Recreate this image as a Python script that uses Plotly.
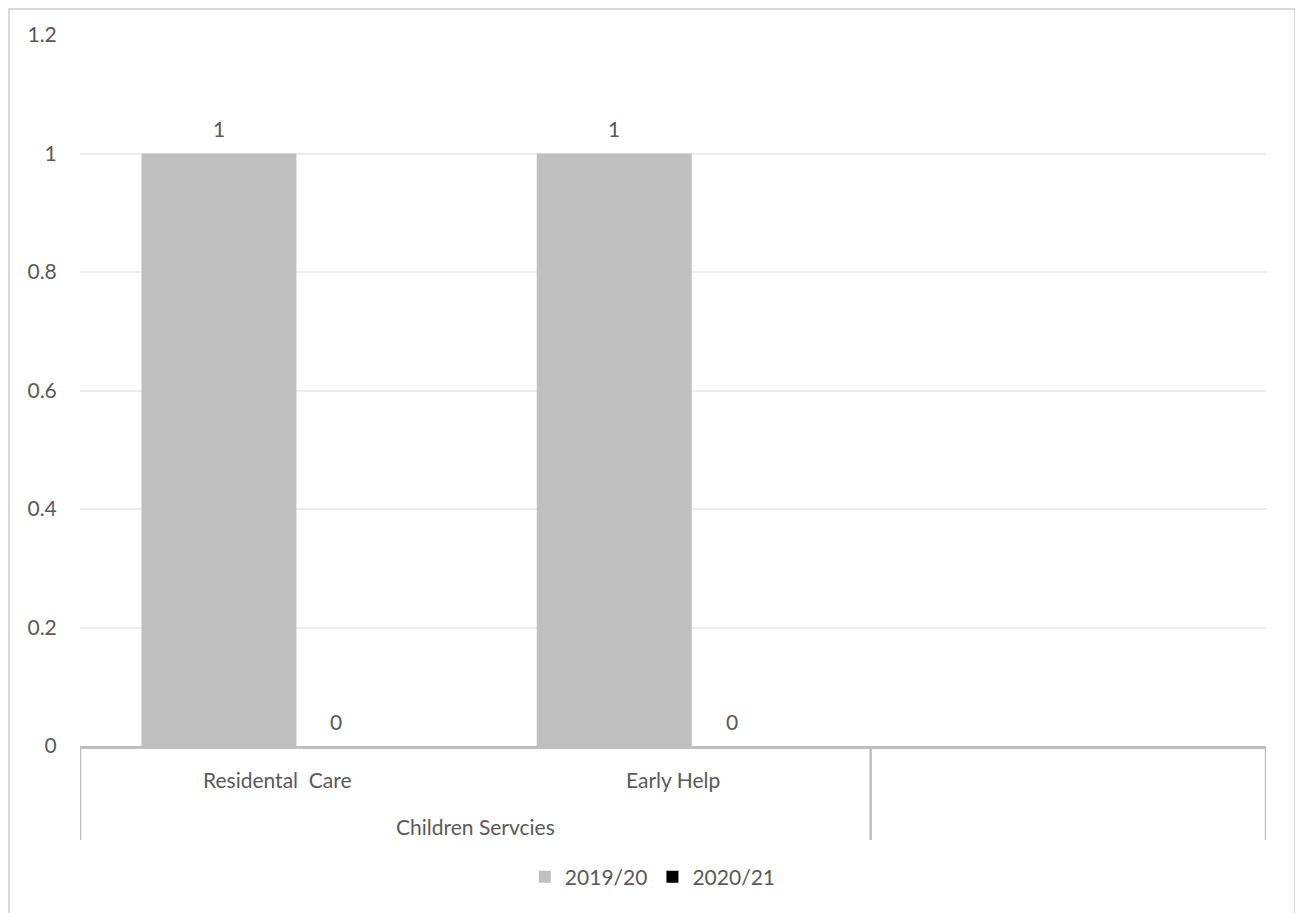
import plotly.graph_objects as go

# ---- data ----
categories = ["Residental  Care", "Early Help", " "]
group_label = "Children Servcies"
group_members = [0, 1]
series_names = ["2019/20", "2020/21"]
values_2019 = [1, 1, None]
values_2020 = [0, 0, None]
y_ticks = [0, 0.2, 0.4, 0.6, 0.8, 1, 1.2]
y_tick_text = ["0", "0.2", "0.4", "0.6", "0.8", "1", "1.2"]

FONT = "Lato, 'Open Sans', sans-serif"
FS = 21
TXT = "#595959"
AXIS = "#bfbfbf"
colors = ["#bfbfbf", "#000000"]

bar_w = 0.392
centers = [-0.1486, 0.1486]
series = [values_2019, values_2020]

W, H = 1295, 905
L, R, T = 72, 37, 27
W_PLOT = W - L - R
H_PLOT = 711.0
B = H - T - int(H_PLOT)

fig = go.Figure()
for name, vals, col, c in zip(series_names, series, colors, centers):
    fig.add_trace(go.Bar(
        x=categories, y=vals, name=name,
        marker=dict(color=col, line=dict(width=0)),
        width=bar_w, offset=c - bar_w / 2,
        hoverinfo="x+y+name",
    ))

annotations = []
# data labels
for vals, c in zip(series, centers):
    for i, v in enumerate(vals):
        if v is None:
            continue
        annotations.append(dict(
            x=i + c, y=v, xref="x", yref="y", text=str(v), showarrow=False,
            yshift=25, font=dict(family=FONT, size=FS, color=TXT),
        ))

def py(px_below_axis):
    return -px_below_axis / H_PLOT

# category labels
for i, cat in enumerate(categories):
    annotations.append(dict(
        x=i, y=py(33), xref="x", yref="paper", text=cat, showarrow=False,
        yanchor="middle", font=dict(family=FONT, size=FS, color=TXT),
    ))
# group label
annotations.append(dict(
    x=sum(group_members) / len(group_members), y=py(80), xref="x", yref="paper",
    text=group_label, showarrow=False, yanchor="middle",
    font=dict(family=FONT, size=FS, color=TXT),
))

shapes = []
# dividers at group boundaries
for xb in [-0.5, max(group_members) + 0.5, len(categories) - 0.5]:
    shapes.append(dict(type="line", xref="x", yref="paper", x0=xb, x1=xb,
                       y0=0, y1=py(94), line=dict(color=AXIS, width=2.5)))
# chart border
shapes.append(dict(type="rect", xref="paper", yref="paper",
                   x0=(1 - L) / W_PLOT, x1=(1287 - L) / W_PLOT,
                   y0=-0.3, y1=(H_PLOT + T - 1) / H_PLOT,
                   line=dict(color="#d9d9d9", width=2), layer="below"))

fig.update_layout(
    width=W, height=H,
    margin=dict(l=L, r=R, t=T, b=B),
    paper_bgcolor="white", plot_bgcolor="white",
    barmode="overlay",
    font=dict(family=FONT, size=FS, color=TXT),
    showlegend=True,
    legend=dict(orientation="h", x=0.483, xanchor="center", y=py(131), yanchor="middle",
                font=dict(family=FONT, size=FS, color=TXT), itemwidth=30,
                traceorder="normal"),
    annotations=annotations,
    shapes=shapes,
    xaxis=dict(type="category", categoryarray=categories, categoryorder="array",
               range=[-0.5, len(categories) - 0.5], showticklabels=False,
               showgrid=False, zeroline=False, showline=True, linecolor=AXIS,
               linewidth=2.5, ticks="", fixedrange=True),
    yaxis=dict(range=[0, 1.2], tickvals=y_ticks, ticktext=y_tick_text,
               showgrid=True, gridcolor="#ececec", gridwidth=1.5, zeroline=False,
               showline=False, ticks="outside", ticklen=18, tickcolor="rgba(0,0,0,0)",
               tickfont=dict(family=FONT, size=FS, color=TXT)),
)

fig.write_html("out.html")
